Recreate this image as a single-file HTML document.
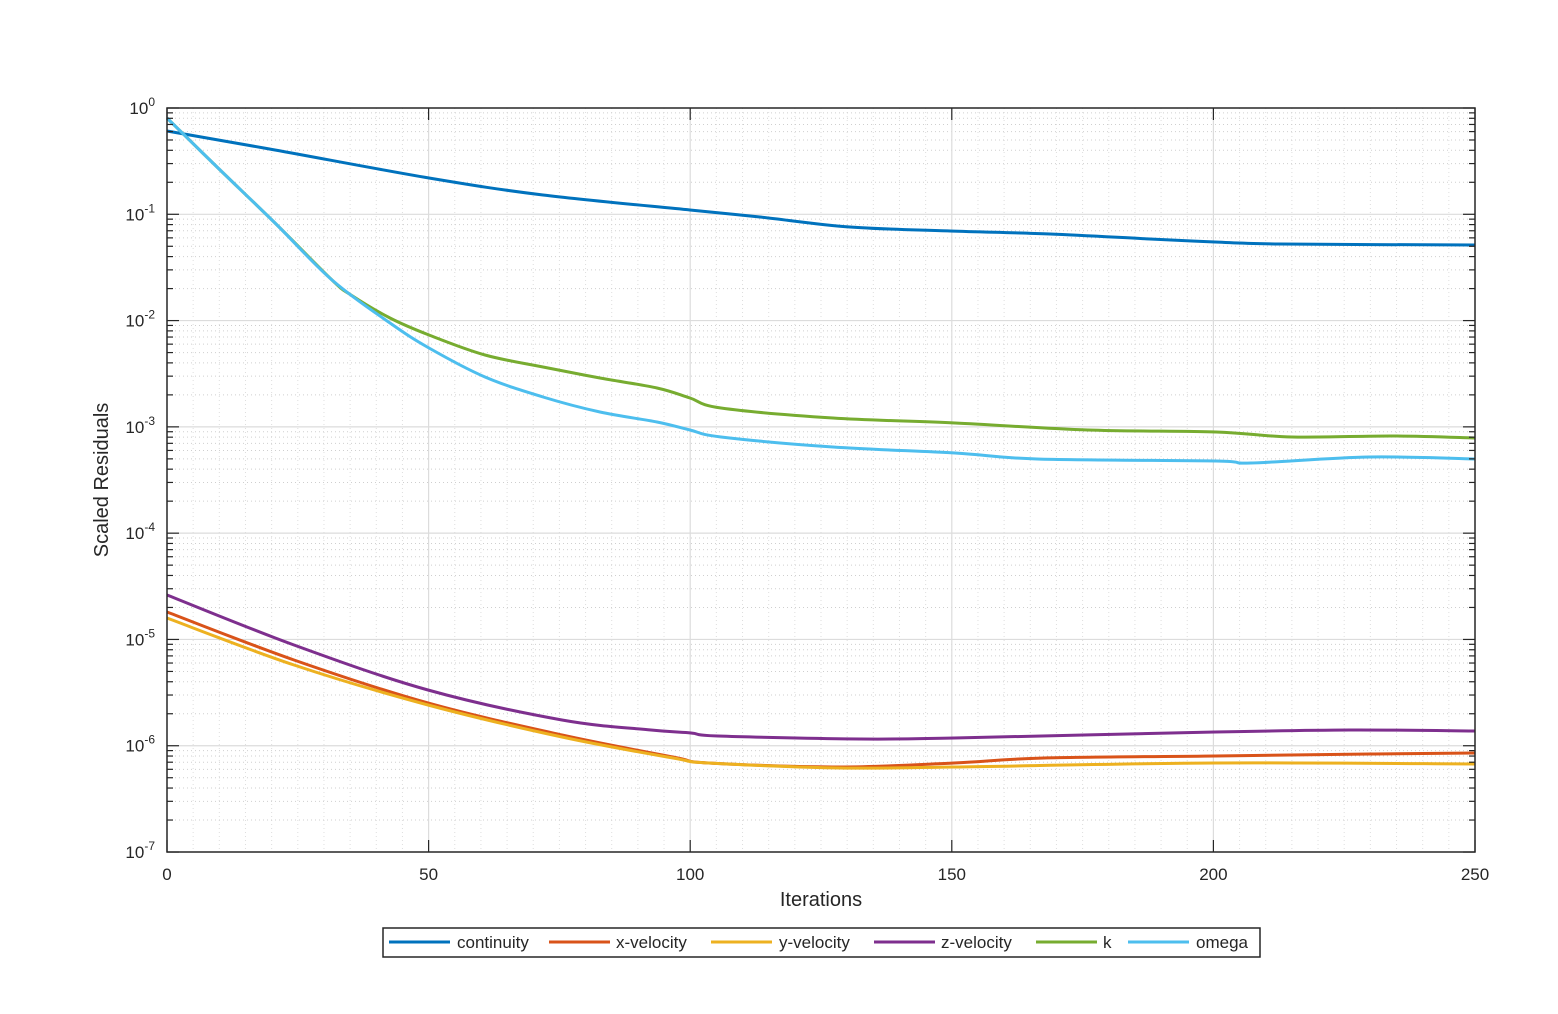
<!DOCTYPE html>
<html><head><meta charset="utf-8"><style>
html,body{margin:0;padding:0;background:#fff;width:1558px;height:1014px;overflow:hidden}
text{font-family:"Liberation Sans",sans-serif;fill:#262626}
</style></head><body>
<svg id="s" width="1558" height="1014" xmlns="http://www.w3.org/2000/svg">
<g id="grid"></g>
<g id="lines" fill="none" stroke-width="3" stroke-linejoin="round"></g>
<rect x="167" y="108" width="1308" height="744" fill="none" stroke="#262626" stroke-width="1.5"/>
<g id="ticks" stroke="#262626" stroke-width="1.2"></g>
<g id="labels" font-size="17"></g>
<text x="821" y="906" font-size="20" text-anchor="middle">Iterations</text>
<text transform="translate(108,480) rotate(-90)" font-size="20" text-anchor="middle">Scaled Residuals</text>
<rect x="383" y="928" width="877" height="29" fill="#fff" stroke="#262626" stroke-width="1.5"/>
<g id="leg" font-size="17"></g>
</svg>
<script>
var NS="http://www.w3.org/2000/svg";
function el(p,t,a,txt){var e=document.createElementNS(NS,t);for(var k in a)e.setAttribute(k,a[k]);if(txt!=null)e.textContent=txt;p.appendChild(e);return e;}
var L=167,R=1475,T=108,B=852,D=106.29;
var g=document.getElementById('grid'),tk=document.getElementById('ticks'),lb=document.getElementById('labels');
for(var i=5;i<250;i+=5){var x=L+i*(R-L)/250;if(i%50)el(g,'line',{x1:x,x2:x,y1:T,y2:B,stroke:'#dedede','stroke-dasharray':'1,3'});}
for(var d=0;d<7;d++){for(var m=2;m<10;m++){var y=T+(d+1)*D-Math.log10(m)*D;
el(g,'line',{x1:L,x2:R,y1:y,y2:y,stroke:'#cfcfcf','stroke-dasharray':'1,3'});
el(tk,'line',{x1:L,x2:L+6,y1:y,y2:y});el(tk,'line',{x1:R,x2:R-6,y1:y,y2:y});}}
for(var d=0;d<=7;d++){var y=T+d*D;if(d>0&&d<7)el(g,'line',{x1:L,x2:R,y1:y,y2:y,stroke:'#dcdcdc','stroke-width':1.2});
el(tk,'line',{x1:L,x2:L+12,y1:y,y2:y});el(tk,'line',{x1:R,x2:R-12,y1:y,y2:y});
var t=el(lb,'text',{x:155,y:y+6,'text-anchor':'end'},'10');el(t,'tspan',{dy:-8,'font-size':12},d==0?'0':'-'+d);}
for(var i=0;i<=250;i+=50){var x=L+i*(R-L)/250;if(i>0&&i<250)el(g,'line',{x1:x,x2:x,y1:T,y2:B,stroke:'#dcdcdc','stroke-width':1.2});
el(tk,'line',{x1:x,x2:x,y1:B,y2:B-12});el(tk,'line',{x1:x,x2:x,y1:T,y2:T+12});
el(lb,'text',{x:x,y:880,'text-anchor':'middle'},String(i));}
var ser=[
['#0072BD',[[167,131],[275,150],[429,178],[543,195],[690,210],[760,217],[850,227],[950,231],[1050,234],[1150,239],[1215,242],[1280,244],[1475,245]]],
['#D95319',[[167,612],[294,660],[428,703],[562,735],[673,757],[709,763],[840,767],[954,763],[1044,758],[1215,756],[1370,754],[1475,753]]],
['#EDB120',[[167,618],[294,665],[428,705],[562,737],[673,758],[709,763],[840,768],[954,767],[1215,763],[1475,764]]],
['#7E2F8E',[[167,595],[294,645],[428,690],[562,720],[651,730],[691,733],[718,736],[860,739],[954,738],[1215,732],[1350,730],[1475,731]]],
['#77AC30',[[167,118],[217,167],[275,223],[332,280],[351,295],[390,318],[429,335],[485,355],[543,367],[600,378],[657,388],[690,398],[721,408],[833,418],[955,423],[1088,430],[1216,432],[1292,437],[1394,436],[1475,438]]],
['#4DBEEE',[[167,118],[217,167],[275,223],[332,280],[390,323],[429,348],[485,377],[543,397],[600,412],[657,422],[690,430],[721,437],[833,447],[955,453],[1037,459],[1216,461],[1251,463],[1369,457],[1475,459]]]];
function smooth(p){var d='M'+p[0][0]+','+p[0][1];for(var i=0;i<p.length-1;i++){var p0=p[i-1]||p[i],p1=p[i],p2=p[i+1],p3=p[i+2]||p2;
var c1=[p1[0]+(p2[0]-p0[0])/6,p1[1]+(p2[1]-p0[1])/6],c2=[p2[0]-(p3[0]-p1[0])/6,p2[1]-(p3[1]-p1[1])/6];
d+=' C'+c1.join(',')+' '+c2.join(',')+' '+p2.join(',');}return d;}
var ln=document.getElementById('lines');
ser.forEach(function(s){el(ln,'path',{d:smooth(s[1]),stroke:s[0]});});
var leg=document.getElementById('leg');
var items=[['continuity',389,457],['x-velocity',549,616],['y-velocity',711,779],['z-velocity',874,941],['k',1036,1103],['omega',1128,1196]];
items.forEach(function(it,i){el(leg,'line',{x1:it[1],x2:it[1]+61,y1:942,y2:942,stroke:ser[i][0],'stroke-width':3});
el(leg,'text',{x:it[2],y:948},it[0]);});
</script>
</body></html>
